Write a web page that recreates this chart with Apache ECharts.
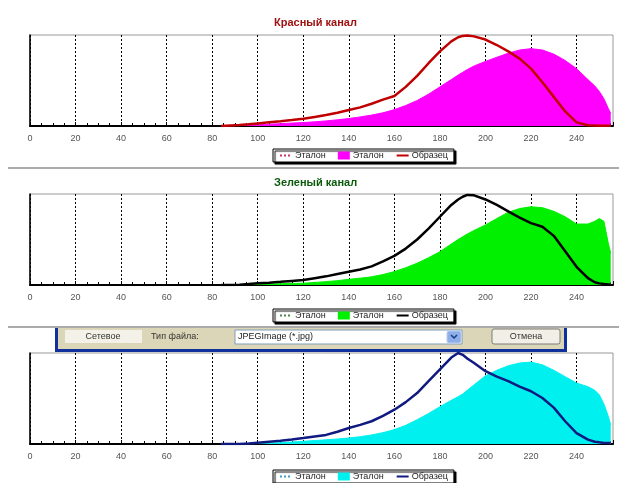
<!DOCTYPE html>
<html>
<head>
<meta charset="utf-8">
<script src="https://cdn.jsdelivr.net/npm/echarts@6/dist/echarts.min.js"></script>
<style>
  html, body { margin: 0; padding: 0; background: #fff; }
  #chart { width: 619px; height: 483px; }
</style>
</head>
<body>
<div id="chart"></div>
<script>
// яркость (ось X), общая для всех трёх каналов
const bins = [84, 88, 92, 96, 100, 105, 110, 115, 120, 125, 130, 135, 140, 145, 150, 155, 160, 165, 170, 175,
  180, 185, 188, 190, 192, 195, 200, 205, 210, 215, 220, 225, 230, 235, 240, 245, 248, 250, 252, 254, 255];

// красный канал
const redEtalon = [0, 0.3, 0.6, 1, 1.4, 2, 2.6, 3.2, 3.8, 4.6, 5.6, 6.8, 8.2, 10, 12, 14.5, 18, 22.5, 28, 35,
  43, 51, 56, 59, 62, 66, 71, 75.5, 80, 83.5, 85, 83.5, 79, 72, 63, 51, 44, 38, 30, 19, 14];
const redSample = [0, 0.5, 1, 1.8, 2.8, 4, 5.2, 6.5, 8, 10, 12, 14.5, 17.5, 20.5, 24.5, 29, 33, 43, 55, 69,
  82, 93, 97.5, 99, 99.5, 98.5, 95, 89, 82, 74, 63, 48, 32, 16, 4, 0.8, 0.5, 0.3, 0.3, 0.2, 0.2];

// зеленый канал
const greenEtalon = [0, 0, 0.2, 0.5, 0.8, 1.1, 1.4, 1.7, 2, 2.8, 3.7, 4.8, 6.2, 7.5, 9, 11.5, 14.7, 19, 24, 30,
  36.6, 45, 50, 53, 56, 60, 66, 73, 80, 84, 86, 85, 81, 75, 67, 67, 70, 73, 70, 45, 35];
const greenSample = [0, 0, 0.4, 1, 1.8, 2.6, 3.5, 4.5, 5.5, 7.5, 9.5, 12, 14.5, 17, 20.5, 26, 32, 40, 50, 62,
  75, 88, 94, 97, 99, 98.5, 94, 88, 81, 74, 68, 64, 54, 37, 20, 7.5, 3, 1.8, 1, 0.6, 0.5];

// синий канал
const blueEtalon = [0, 0, 0, 0.3, 0.6, 1, 1.5, 2.2, 3, 3.8, 4.6, 5.5, 6.6, 8, 10, 12.5, 15.8, 20.5, 26.7, 33.5,
  41, 48, 52, 55, 59, 65, 75, 81, 86, 89, 90, 87, 81, 74, 67, 63, 59, 54, 44, 30, 21];
const blueSample = [0, 0, 0, 0.5, 1.5, 2.5, 3.5, 5, 6.6, 8.3, 10, 13.5, 17.6, 21, 25, 31, 37.7, 46, 56, 69,
  82, 95, 100, 98, 94, 89, 80, 74, 69, 63, 58, 50.5, 40, 25, 12, 4.8, 2.5, 1.8, 1.2, 1, 1];

const xTicks = [0, 20, 40, 60, 80, 100, 120, 140, 160, 180, 200, 220, 240];

const FONT = 'Liberation Sans, Arial, sans-serif';

// панели: положение сетки и цвета
const panels = [
  { key: 'r', top: 35, dash: '#cc3366', fill: '#ff00ff', line: '#c00000', etalon: redEtalon, sample: redSample, legendTop: 149 },
  { key: 'g', top: 194, dash: '#4a8a4a', fill: '#00f000', line: '#000000', etalon: greenEtalon, sample: greenSample, legendTop: 309 },
  { key: 'b', top: 353, dash: '#3aa0c8', fill: '#00f0f0', line: '#101a80', etalon: blueEtalon, sample: blueSample, legendTop: 470 }
];

function pairs(vals) {
  return bins.map((x, i) => [x, vals[i]]);
}

const grids = [], xAxes = [], yAxes = [], series = [], legends = [];

panels.forEach((p, i) => {
  grids.push({
    left: 30, width: 583, top: p.top, height: 91,
    show: true, borderColor: '#999', borderWidth: 1
  });
  xAxes.push({
    type: 'value', gridIndex: i, min: 0, max: 256, interval: 20,
    axisLine: { lineStyle: { color: '#000', width: 2 } },
    axisTick: { inside: true, length: 4, lineStyle: { color: '#000' } },
    minorTick: { show: true, splitNumber: 4, length: 3, lineStyle: { color: '#000' } },
    axisLabel: {
      fontSize: 9, color: '#555', margin: 8, fontFamily: FONT,
      showMaxLabel: false,
      formatter: v => (xTicks.indexOf(v) >= 0 ? String(v) : '')
    },
    splitLine: { show: true, showMaxLine: false, lineStyle: { color: '#000', type: [2, 2], width: 1 } }
  });
  yAxes.push({
    type: 'value', gridIndex: i, min: 0, max: 100,
    axisLine: { show: true, lineStyle: { color: '#000', width: 1.5 } },
    axisTick: { show: false },
    axisLabel: { show: false },
    splitLine: { show: false }
  });
  // пустая серия для первого пункта легенды (пунктир)
  series.push({
    name: 'Эталон_' + p.key + '0', type: 'line', xAxisIndex: i, yAxisIndex: i,
    data: [], symbol: 'none',
    lineStyle: { color: p.dash, type: [2, 2], width: 2 },
    itemStyle: { color: p.dash }
  });
  series.push({
    name: 'Эталон_' + p.key + '1', type: 'line', xAxisIndex: i, yAxisIndex: i,
    data: pairs(p.etalon), symbol: 'none', z: 2,
    lineStyle: { color: p.fill, width: 1 },
    itemStyle: { color: p.fill },
    areaStyle: { color: p.fill, opacity: 1 }
  });
  series.push({
    name: 'Образец_' + p.key, type: 'line', xAxisIndex: i, yAxisIndex: i,
    data: pairs(p.sample), symbol: 'none', z: 3,
    lineStyle: { color: p.line, width: 2.5 },
    itemStyle: { color: p.line }
  });
  legends.push({
    left: 273, top: p.legendTop,
    data: [
      { name: 'Эталон_' + p.key + '0', itemStyle: { opacity: 0 } },
      { name: 'Эталон_' + p.key + '1', icon: 'rect' },
      { name: 'Образец_' + p.key, itemStyle: { opacity: 0 } }
    ],
    formatter: n => n.split('_')[0],
    itemWidth: 12, itemHeight: 8, itemGap: 12,
    padding: [2, 6],
    backgroundColor: '#fff',
    borderColor: '#000', borderWidth: 1,
    shadowColor: '#000', shadowBlur: 1, shadowOffsetX: 2, shadowOffsetY: 2,
    textStyle: { fontSize: 9, color: '#222', fontFamily: FONT, padding: [0, 0, 0, -2] }
  });
});

const titles = [
  { text: 'Красный канал', left: 274, top: 17, padding: 0,
    textStyle: { fontSize: 11, fontWeight: 'bold', color: '#a01010', fontFamily: FONT } },
  { text: 'Зеленый канал', left: 274, top: 177, padding: 0,
    textStyle: { fontSize: 11, fontWeight: 'bold', color: '#0a5a0a', fontFamily: FONT } }
];

// разделители и всплывшее окно сохранения поверх третьей панели
const graphics = [
  { type: 'line', shape: { x1: 8, y1: 168, x2: 619, y2: 168 }, style: { stroke: '#aaa', lineWidth: 2 }, z: 10 },
  { type: 'line', shape: { x1: 8, y1: 327, x2: 619, y2: 327 }, style: { stroke: '#aaa', lineWidth: 2 }, z: 10 },
  { type: 'rect', shape: { x: 55, y: 328, width: 512, height: 23 }, style: { fill: '#dcd6b8' }, z: 20 },
  { type: 'rect', shape: { x: 55, y: 328, width: 3, height: 24 }, style: { fill: '#10309c' }, z: 21 },
  { type: 'rect', shape: { x: 564, y: 328, width: 3, height: 24 }, style: { fill: '#10309c' }, z: 21 },
  { type: 'rect', shape: { x: 55, y: 349, width: 512, height: 3 }, style: { fill: '#10309c' }, z: 21 },
  { type: 'rect', shape: { x: 65, y: 330, width: 77, height: 13 }, style: { fill: '#f4f2e8' }, z: 22 },
  { type: 'text', x: 103, y: 337, style: { text: 'Сетевое', fontSize: 9, fill: '#333', align: 'center', verticalAlign: 'middle', fontFamily: FONT }, z: 23 },
  { type: 'text', x: 151, y: 337, style: { text: 'Тип файла:', fontSize: 9, fill: '#333', align: 'left', verticalAlign: 'middle', fontFamily: FONT }, z: 23 },
  { type: 'rect', shape: { x: 235, y: 330, width: 227, height: 14 }, style: { fill: '#fff', stroke: '#7f9db9', lineWidth: 1 }, z: 22 },
  { type: 'text', x: 238, y: 337, style: { text: 'JPEGImage (*.jpg)', fontSize: 9, fill: '#222', align: 'left', verticalAlign: 'middle', fontFamily: FONT }, z: 23 },
  { type: 'rect', shape: { x: 447, y: 331, width: 14, height: 12, r: 2 }, style: { fill: '#8eaee8', stroke: '#b8ccf0' }, z: 23 },
  { type: 'polyline', shape: { points: [[451, 335], [454, 338], [457, 335]] }, style: { stroke: '#1a3a8a', lineWidth: 1.5, fill: null }, z: 24 },
  { type: 'rect', shape: { x: 492, y: 329, width: 68, height: 15, r: 2 }, style: { fill: '#f2f0e6', stroke: '#7a7a7a', lineWidth: 1 }, z: 22 },
  { type: 'text', x: 526, y: 337, style: { text: 'Отмена', fontSize: 9, fill: '#333', align: 'center', verticalAlign: 'middle', fontFamily: FONT }, z: 23 }
];

const myChart = echarts.init(document.getElementById('chart'));
myChart.setOption({
  animation: false,
  backgroundColor: '#fff',
  title: titles,
  grid: grids,
  xAxis: xAxes,
  yAxis: yAxes,
  legend: legends,
  series: series,
  graphic: graphics
});
</script>
</body>
</html>
